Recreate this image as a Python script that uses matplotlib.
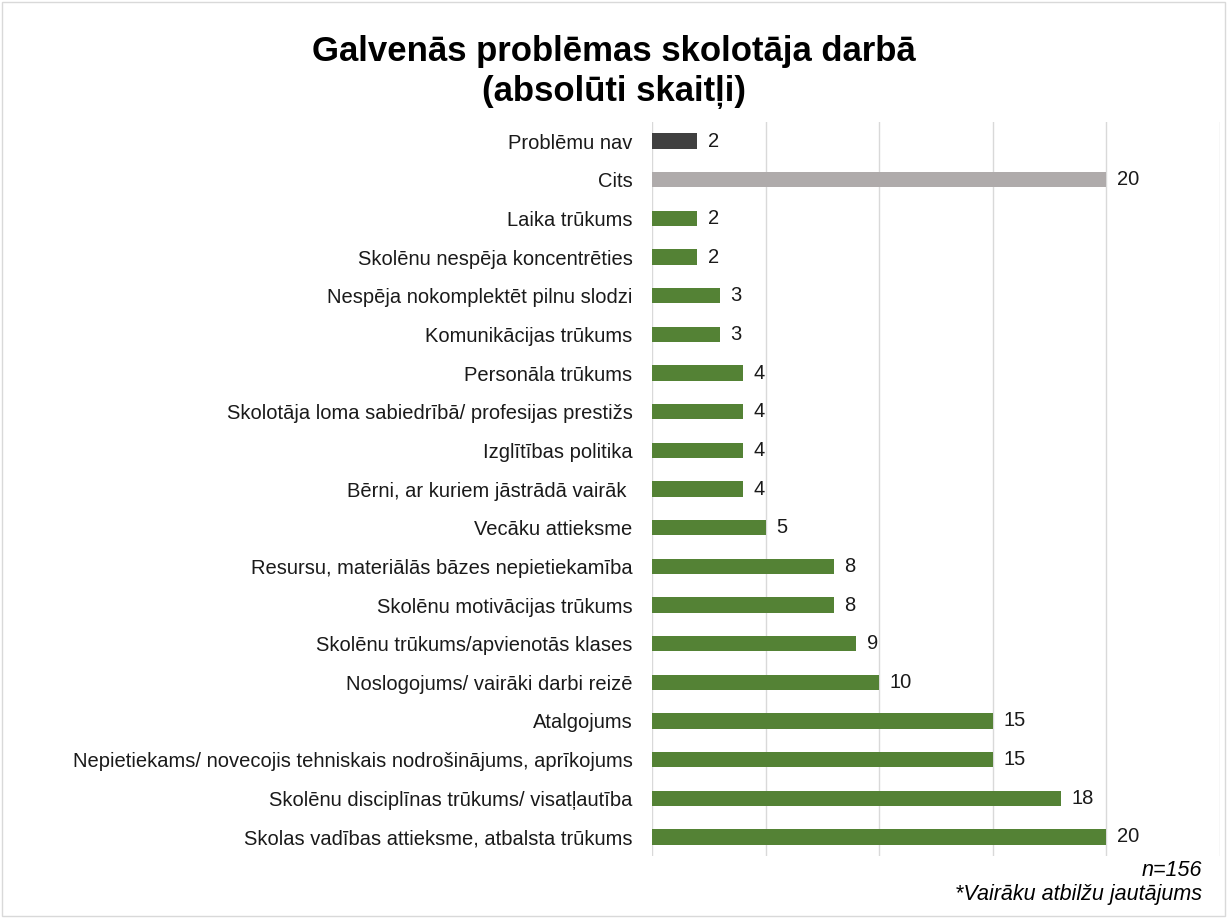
import matplotlib.pyplot as plt
from matplotlib.patches import Rectangle

plt.rcParams['font.family'] = ['Liberation Sans', 'DejaVu Sans']

categories = [
    "Problēmu nav",
    "Cits",
    "Laika trūkums",
    "Skolēnu nespēja koncentrēties",
    "Nespēja nokomplektēt pilnu slodzi",
    "Komunikācijas trūkums",
    "Personāla trūkums",
    "Skolotāja loma sabiedrībā/ profesijas prestižs",
    "Izglītības politika",
    "Bērni, ar kuriem jāstrādā vairāk ",
    "Vecāku attieksme",
    "Resursu, materiālās bāzes nepietiekamība",
    "Skolēnu motivācijas trūkums",
    "Skolēnu trūkums/apvienotās klases",
    "Noslogojums/ vairāki darbi reizē",
    "Atalgojums",
    "Nepietiekams/ novecojis tehniskais nodrošinājums, aprīkojums",
    "Skolēnu disciplīnas trūkums/ visatļautība",
    "Skolas vadības attieksme, atbalsta trūkums",
]
values = [2, 20, 2, 2, 3, 3, 4, 4, 4, 4, 5, 8, 8, 9, 10, 15, 15, 18, 20]
colors = ['#404040', '#AFABAB'] + ['#548235'] * 17

fig = plt.figure(figsize=(12.27, 9.18), dpi=100)
ax = fig.add_axes([0.5314, 0.0672, 0.9943 - 0.5314, 0.8674 - 0.0672])

y = list(range(len(categories)))
ax.barh(y, values, height=0.4, color=colors, zorder=3)
ax.set_ylim(len(categories) - 0.5, -0.5)
ax.set_xlim(0, 25)
ax.set_xticks([0, 5, 10, 15, 20, 25])
ax.xaxis.grid(True, color='#D9D9D9', linewidth=1, zorder=0)
ax.tick_params(axis='x', length=0, labelbottom=False)
ax.tick_params(axis='y', length=0, pad=14)
ax.set_yticks(y)
ax.set_yticklabels(categories, fontsize=14.5, color='#1a1a1a')
for s in ax.spines.values():
    s.set_visible(False)

for yi, v in zip(y, values):
    ax.text(v + 0.45, yi, str(v), va='center', ha='left', fontsize=14.5, color='#1a1a1a')

fig.text(0.5, 0.962, "Galvenās problēmas skolotāja darbā\n(absolūti skaitļi)",
         ha='center', va='top', fontsize=25, fontweight='bold', linespacing=1.28)
fig.text(0.98, 0.052, "n=156", ha='right', va='center', fontsize=15.5, style='italic')
fig.text(0.98, 0.026, "*Vairāku atbilžu jautājums", ha='right', va='center', fontsize=15.5, style='italic')

fig.patches.append(Rectangle((0.002, 0.002), 0.996, 0.996, transform=fig.transFigure,
                             fill=False, edgecolor='#D9D9D9', linewidth=1))

fig.savefig('out.png', dpi=100)
